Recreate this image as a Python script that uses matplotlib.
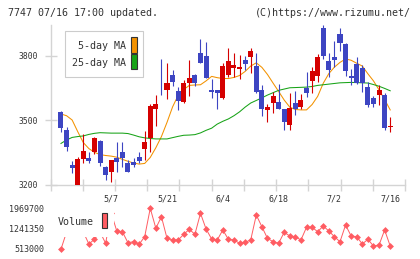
import numpy as np
import matplotlib
matplotlib.use("Agg")
import matplotlib.pyplot as plt
from matplotlib.patches import Rectangle

# ---- data (first entry = partial candle at left edge) ----
opens = [3500,
         3537, 3453, 3291, 3198, 3319, 3325, 3353, 3402, 3280, 3260,
         3325, 3353, 3302, 3304, 3328, 3365, 3418, 3551, 3688, 3640,
         3709, 3635, 3585, 3673, 3709, 3810, 3798, 3639, 3639, 3604,
         3709, 3743, 3737, 3779, 3794, 3751, 3640, 3548, 3580, 3585,
         3551, 3477, 3578, 3562, 3647, 3681, 3705, 3930, 3774, 3794,
         3900, 3853, 3705, 3760, 3740, 3655, 3601, 3616, 3616, 3467]
highs = [3500,
         3540, 3466, 3311, 3329, 3433, 3353, 3420, 3405, 3286, 3316,
         3398, 3398, 3316, 3323, 3350, 3450, 3574, 3616, 3782, 3767,
         3733, 3655, 3688, 3779, 3712, 3877, 3861, 3689, 3640, 3765,
         3833, 3810, 3802, 3798, 3833, 3810, 3663, 3574, 3632, 3667,
         3553, 3627, 3635, 3621, 3725, 3748, 3807, 3940, 3810, 3867,
         3928, 3856, 3736, 3795, 3756, 3678, 3612, 3663, 3624, 3512]
lows = [3500,
        3446, 3357, 3255, 3190, 3299, 3299, 3340, 3286, 3221, 3213,
        3260, 3283, 3258, 3283, 3299, 3314, 3353, 3472, 3616, 3596,
        3658, 3547, 3580, 3612, 3658, 3764, 3697, 3601, 3551, 3600,
        3701, 3701, 3691, 3733, 3720, 3627, 3519, 3492, 3531, 3550,
        3453, 3453, 3523, 3550, 3608, 3627, 3678, 3784, 3701, 3748,
        3822, 3705, 3663, 3668, 3632, 3559, 3562, 3570, 3453, 3446]
closes = [3500,
          3463, 3373, 3275, 3319, 3356, 3311, 3418, 3299, 3244, 3314,
          3306, 3325, 3260, 3290, 3311, 3396, 3565, 3574, 3684, 3671,
          3678, 3588, 3673, 3697, 3673, 3764, 3697, 3630, 3627, 3751,
          3774, 3756, 3747, 3759, 3821, 3632, 3551, 3560, 3612, 3550,
          3492, 3554, 3550, 3593, 3624, 3728, 3794, 3798, 3733, 3779,
          3860, 3728, 3697, 3671, 3671, 3570, 3574, 3640, 3464, 3470]
ma5 = [np.nan,
       3528, 3520, 3500, 3446, 3395, 3367, 3350, 3339, 3335, 3332,
       3327, 3317, 3308, 3300, 3295, 3298, 3326, 3371, 3423, 3489,
       3561, 3615, 3642, 3661, 3663, 3664, 3682, 3703, 3697, 3693,
       3693, 3698, 3707, 3726, 3751, 3766, 3745, 3712, 3672, 3633,
       3593, 3560, 3549, 3547, 3547, 3572, 3610, 3671, 3716, 3746,
       3768, 3784, 3778, 3764, 3751, 3715, 3682, 3640, 3595, 3547]
ma25 = [np.nan,
        3391, 3407, 3419, 3423, 3426, 3433, 3438, 3441, 3440, 3439,
        3439, 3439, 3437, 3430, 3422, 3417, 3414, 3412, 3412, 3412,
        3418, 3424, 3429, 3430, 3432, 3440, 3452, 3462, 3481, 3494,
        3505, 3520, 3538, 3560, 3579, 3591, 3603, 3616, 3627, 3638,
        3644, 3650, 3651, 3652, 3653, 3656, 3661, 3664, 3667, 3670,
        3673, 3674, 3675, 3674, 3673, 3672, 3665, 3657, 3647, 3636]
volume = [np.nan,
          505000, 1121000, 1200000, 1100000, 1121000, 692000, 860000, 1121000, 717000, 1800000,
          1157000, 1132000, 738000, 774000, 681000, 953000, 1970000, 1254000, 1669000, 896000,
          835000, 835000, 1039000, 1218000, 1039000, 1791000, 1229000, 871000, 835000, 1193000,
          860000, 835000, 717000, 753000, 835000, 1730000, 1311000, 896000, 774000, 717000,
          1110000, 978000, 953000, 835000, 1290000, 1290000, 1132000, 1336000, 1157000, 953000,
          774000, 1372000, 978000, 953000, 692000, 860000, 620000, 656000, 1193000, 620000]
date_idx = [10, 20, 30, 40, 50, 60]
date_labels = ["5/7", "5/21", "6/4", "6/18", "7/2", "7/16"]
price_ticks = [3200, 3500, 3800]
vol_ticks = [513000, 1241350, 1969700]

RED = "#d50000"
BLUE = "#3d45c2"
ORANGE = "#f39200"
GREEN = "#17a317"
VOLC = "#ff5c62"
GRID = "#d4d4d4"
TXT = "#333333"
MONO = "DejaVu Sans Mono"

W, H = 420, 259
fig = plt.figure(figsize=(W / 100, H / 100), dpi=100)


def fx(px):
    return px / W


def fy(py):
    return 1 - py / H


o = np.array(opens, float)
h = np.array(highs, float)
l = np.array(lows, float)
c = np.array(closes, float)
x = np.arange(len(o))
xl, xr = -0.878, 62.65

# price panel
ax = fig.add_axes([fx(50.5), fy(184.5), fx(405) - fx(50.5), fy(25) - fy(184.5)])
cols = np.where(c >= o, RED, BLUE)
ax.vlines(x, l, h, colors=cols, lw=0.8, zorder=3)
bh = np.maximum(np.abs(c - o), 4)
widths = np.full(len(x), 0.9)
widths[0] = 1.3
ax.bar(x, bh, bottom=(o + c) / 2 - bh / 2, width=widths, color=cols, lw=0, zorder=3)
ax.plot(x, ma5, color=ORANGE, lw=0.75, zorder=2)
ax.plot(x, ma25, color=GREEN, lw=0.75, zorder=2)

ax.set_xlim(xl, xr)
ax.set_ylim(3200, 3942)
ax.set_xticks(np.linspace(xl, xr, 12))
ax.set_xticklabels([])
ax.set_xticks(date_idx, minor=True)
ax.set_xticklabels(date_labels, minor=True, fontsize=6, family=MONO, color=TXT)
ax.tick_params(axis="x", which="major", direction="inout", length=8, width=1, color=GRID)
ax.tick_params(axis="x", which="minor", length=0, pad=7)
ax.set_yticks(price_ticks)
ax.set_yticklabels([str(t) for t in price_ticks], fontsize=5.8, family=MONO, color=TXT)
ax.tick_params(axis="y", direction="inout", length=8, width=1, color=GRID, pad=5.3)
for s in ["top", "right"]:
    ax.spines[s].set_visible(False)
for s in ["left", "bottom"]:
    ax.spines[s].set_color(GRID)
    ax.spines[s].set_linewidth(1)

# volume panel
axv = fig.add_axes([fx(50.5), fy(253), fx(405) - fx(50.5), fy(203) - fy(253)])
axv.plot(x, volume, color=VOLC, lw=0.7, marker="D", ms=3.5, mew=0, clip_on=False)
axv.set_xlim(xl, xr)
axv.set_ylim(369840, 2159340)
axv.set_xticks([])
axv.set_yticks(vol_ticks)
axv.set_yticklabels([str(t) for t in vol_ticks], fontsize=6, family=MONO, color=TXT)
axv.tick_params(axis="y", length=0, pad=4.7)
for s in axv.spines.values():
    s.set_visible(False)
axv.patch.set_alpha(0)

# legends
fig.add_artist(Rectangle((fx(65), fy(77)), fx(143) - fx(65), fy(31) - fy(77),
                         transform=fig.transFigure, facecolor="white", edgecolor="#cccccc",
                         lw=0.8, zorder=5))
fig.text(fx(125.5), fy(46), "5-day MA", ha="right", va="center", fontsize=7.2,
         family=MONO, color=TXT, zorder=6)
fig.text(fx(125.5), fy(62.5), "25-day MA", ha="right", va="center", fontsize=7.2,
         family=MONO, color=TXT, zorder=6)
fig.add_artist(Rectangle((fx(131), fy(52.7)), fx(6.3), fy(37.3) - fy(52.7),
                         transform=fig.transFigure, facecolor=ORANGE, edgecolor="#333333",
                         lw=0.8, zorder=6))
fig.add_artist(Rectangle((fx(131), fy(69.3)), fx(6.3), fy(54.3) - fy(69.3),
                         transform=fig.transFigure, facecolor=GREEN, edgecolor="#333333",
                         lw=0.8, zorder=6))

fig.add_artist(Rectangle((fx(56), fy(237)), fx(113.5) - fx(56), fy(206) - fy(237),
                         transform=fig.transFigure, facecolor="white", edgecolor="none",
                         zorder=5))
fig.text(fx(58), fy(221.7), "Volume", ha="left", va="center", fontsize=7.2,
         family=MONO, color=TXT, zorder=6)
fig.add_artist(Rectangle((fx(101.7), fy(228.3)), fx(5.6), fy(213.3) - fy(228.3),
                         transform=fig.transFigure, facecolor=VOLC, edgecolor="#333333",
                         lw=0.8, zorder=6))

# header
fig.text(fx(8.5), fy(13), "7747 07/16 17:00 updated.", ha="left", va="center",
         fontsize=7.2, family=MONO, color=TXT)
credit = fig.text(fx(410.5), fy(13), "(C)https://www.rizumu.net/", ha="right", va="center",
                  fontsize=7.2, family=MONO, color=TXT)

# keep the credit line inside the canvas
fig.canvas.draw()
bb = credit.get_window_extent()
if bb.x1 > 411:
    credit.set_x(fx(410.5 - (bb.x1 - 411)))

fig.savefig("out.png", dpi=100)
